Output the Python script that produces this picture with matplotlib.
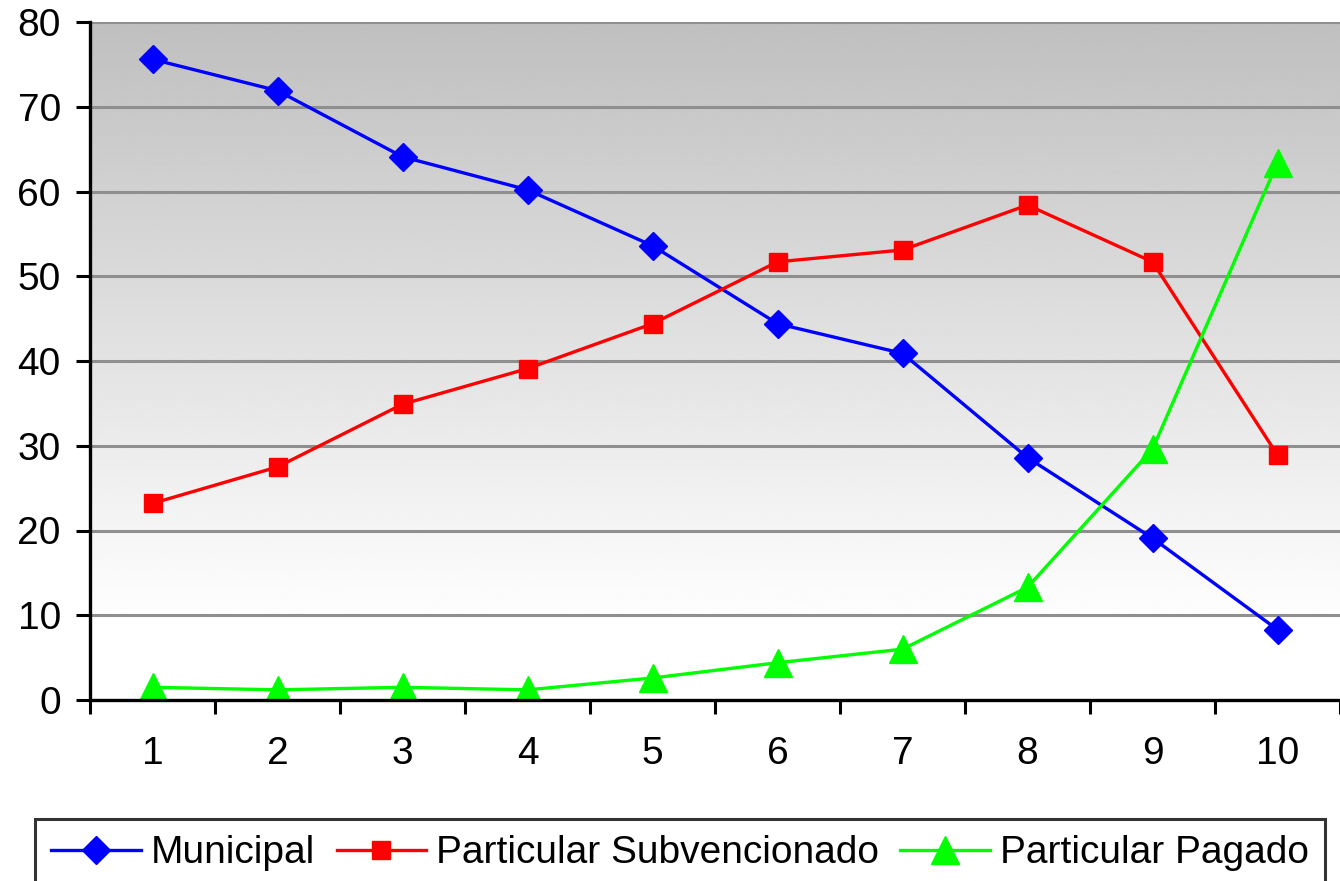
import numpy as np
import matplotlib.pyplot as plt

plt.rcParams['font.family'] = ['Liberation Sans', 'DejaVu Sans']

categories = [1, 2, 3, 4, 5, 6, 7, 8, 9, 10]
municipal = [75.6, 71.9, 64.1, 60.2, 53.6, 44.4, 40.9, 28.6, 19.1, 8.3]
subvencionado = [23.2, 27.5, 34.9, 39.1, 44.4, 51.7, 53.1, 58.4, 51.7, 28.9]
pagado = [1.5, 1.2, 1.5, 1.2, 2.6, 4.4, 6.0, 13.3, 29.6, 63.4]
series_names = ['Municipal', 'Particular Subvencionado', 'Particular Pagado']


def main():
    fig = plt.figure(figsize=(13.4, 8.81), dpi=100)
    ax = fig.add_axes([90 / 1340, 1 - 700 / 881, 1 - 90 / 1340, (700 - 22) / 881])

    x = np.arange(1, len(categories) + 1)
    xmin, xmax = 0.5, len(categories) + 0.5

    # white (bottom) to gray (top) background
    grad = np.linspace(1.03, 0.75, 256).clip(0, 1).reshape(-1, 1)
    ax.imshow(grad, cmap='gray', vmin=0, vmax=1, aspect='auto',
              extent=(xmin, xmax, 0, 80), origin='lower', zorder=0)

    for yv in range(10, 90, 10):
        ax.axhline(yv, color='#8f8f8f', linewidth=2.2, zorder=1)

    ax.plot(x, municipal, color='#0000ff', linewidth=2.4, marker='D',
            markersize=14, label=series_names[0], zorder=3)
    ax.plot(x, subvencionado, color='#ff0000', linewidth=2.4, marker='s',
            markersize=13, label=series_names[1], zorder=3)
    ax.plot(x, pagado, color='#00ff00', linewidth=2.4, marker='^',
            markersize=20, label=series_names[2], zorder=3)

    ax.set_xlim(xmin, xmax)
    ax.set_ylim(0, 80)
    ax.set_yticks(range(0, 90, 10))
    ax.set_xticks(np.arange(xmin, xmax + 0.1, 1))
    ax.set_xticklabels([])
    ax.set_xticks(x, minor=True)
    ax.set_xticklabels([str(c) for c in categories], minor=True)
    ax.tick_params(axis='x', which='major', length=10, width=2.2, direction='out')
    ax.tick_params(axis='x', which='minor', length=0, pad=26, labelsize=28)
    ax.tick_params(axis='y', length=10, width=2.2, direction='out', pad=11, labelsize=28)

    for side in ['top', 'right']:
        ax.spines[side].set_visible(False)
    for side in ['left', 'bottom']:
        ax.spines[side].set_linewidth(2.4)
        ax.spines[side].set_zorder(4)

    leg = fig.legend(loc='upper left', bbox_to_anchor=(35 / 1340, 1 - 819 / 881),
                     ncol=3, fontsize=28, frameon=True, fancybox=False,
                     edgecolor='black', borderpad=0.42, handlelength=2.3,
                     handletextpad=0.26, columnspacing=0.55, borderaxespad=0)
    leg.get_frame().set_linewidth(2.2)

    fig.savefig('out.png', dpi=100)


if __name__ == '__main__':
    main()
